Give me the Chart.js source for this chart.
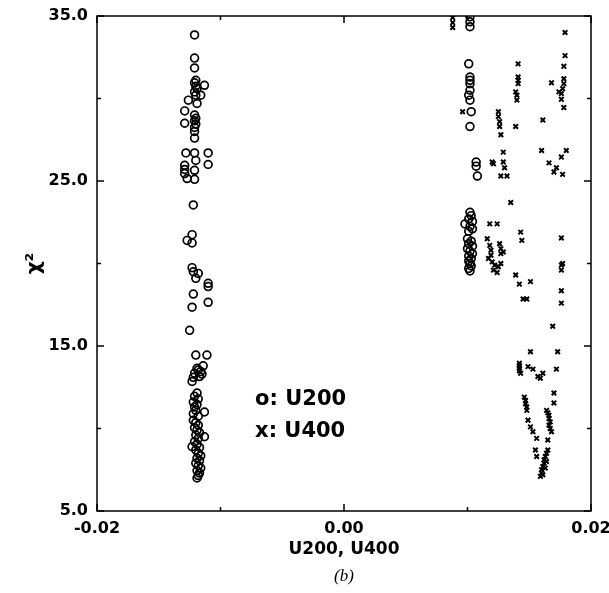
<!DOCTYPE html>
<html lang="en">
<head>
<meta charset="UTF-8">
<title>chi2 vs U200, U400</title>
<script src="https://cdn.jsdelivr.net/npm/chart.js"></script>
<style>
  html, body { margin: 0; padding: 0; background: #fff; }
  canvas { display: block; background: #fff; }
</style>
</head>
<body>
<canvas id="myChart" width="609" height="593"></canvas>
<script>
// values, [U, chi2]
const u200Left = [
  [-0.0121, 33.85], [-0.0121, 32.45], [-0.0121, 31.85],
  [-0.0120, 31.1], [-0.0121, 30.95], [-0.0120, 30.75], [-0.0119, 30.6], [-0.0121, 30.4], [-0.0120, 30.2],
  [-0.0113, 30.8], [-0.0116, 30.2], [-0.0126, 29.9], [-0.0119, 29.7], [-0.0129, 29.25],
  [-0.0121, 29.0], [-0.0120, 28.8], [-0.0121, 28.65], [-0.0120, 28.45], [-0.0121, 28.25],
  [-0.0129, 28.5], [-0.0121, 28.0], [-0.0121, 27.6],
  [-0.0128, 26.7], [-0.0121, 26.7], [-0.0110, 26.7], [-0.0120, 26.25], [-0.0110, 26.0],
  [-0.0129, 25.95], [-0.0129, 25.7], [-0.0129, 25.45], [-0.0127, 25.15], [-0.0121, 25.65], [-0.0121, 25.1],
  [-0.0122, 23.55], [-0.0123, 21.75], [-0.0127, 21.4], [-0.0123, 21.25],
  [-0.0123, 19.75], [-0.0122, 19.5], [-0.0120, 19.1], [-0.0118, 19.4], [-0.0110, 18.8], [-0.0110, 18.6],
  [-0.0122, 18.15], [-0.0110, 17.65], [-0.0123, 17.35], [-0.0125, 15.95],
  [-0.0120, 14.45], [-0.0111, 14.45],
  [-0.0114, 13.8], [-0.0116, 13.45], [-0.0117, 13.15], [-0.0119, 13.65], [-0.0121, 13.35],
  [-0.0122, 13.1], [-0.0123, 12.85], [-0.0118, 13.55], [-0.0115, 13.3],
  [-0.0119, 12.15], [-0.0121, 11.95], [-0.0118, 11.8], [-0.0122, 11.6], [-0.0119, 11.45], [-0.0121, 11.3],
  [-0.0113, 11.0], [-0.0120, 11.1], [-0.0122, 10.9], [-0.0118, 10.75], [-0.0122, 10.5], [-0.0120, 10.35],
  [-0.0118, 10.2], [-0.0121, 10.05], [-0.0119, 9.9], [-0.0117, 9.75], [-0.0113, 9.5], [-0.0120, 9.6],
  [-0.0118, 9.4], [-0.0121, 9.2], [-0.0123, 8.9], [-0.0119, 9.05], [-0.0117, 8.85], [-0.0120, 8.7],
  [-0.0118, 8.5], [-0.0116, 8.35], [-0.0119, 8.2], [-0.0117, 8.05], [-0.0120, 7.9], [-0.0118, 7.75],
  [-0.0116, 7.6], [-0.0119, 7.45], [-0.0117, 7.3], [-0.0118, 7.15], [-0.0119, 7.0]
];
const u200Right = [
  [0.0102, 34.95], [0.0102, 34.65], [0.0102, 34.35], [0.0101, 32.1],
  [0.0102, 31.3], [0.0102, 31.1], [0.0102, 30.9], [0.0102, 30.5], [0.0101, 30.2], [0.0102, 29.9],
  [0.0103, 29.2], [0.0102, 28.3], [0.0107, 26.15], [0.0107, 25.9], [0.0108, 25.3],
  [0.0102, 23.1], [0.0103, 22.9], [0.0101, 22.7], [0.0104, 22.55], [0.0098, 22.4], [0.0102, 22.25],
  [0.0104, 22.1], [0.0101, 21.95], [0.0100, 21.5], [0.0103, 21.35], [0.0101, 21.2], [0.0104, 21.05],
  [0.0100, 20.9], [0.0102, 20.75], [0.0104, 20.6], [0.0101, 20.45], [0.0103, 20.3], [0.0101, 20.15],
  [0.0102, 20.0], [0.0103, 19.85], [0.0101, 19.7], [0.0102, 19.55]
];
const u400Points = [
  [0.0088, 34.9], [0.0088, 34.6], [0.0088, 34.3],
  [0.0179, 34.0], [0.0179, 32.6], [0.0178, 31.95],
  [0.0141, 32.1], [0.0141, 31.3], [0.0141, 31.1], [0.0141, 30.9], [0.0139, 30.4], [0.0140, 30.2], [0.0140, 29.9],
  [0.0168, 30.95], [0.0178, 31.2], [0.0178, 30.9], [0.0177, 30.6], [0.0176, 30.3], [0.0174, 30.4],
  [0.0176, 29.95], [0.0178, 29.45],
  [0.0096, 29.2],
  [0.0125, 29.2], [0.0125, 28.9], [0.0126, 28.6], [0.0126, 28.3], [0.0139, 28.3], [0.0127, 27.8], [0.0161, 28.7],
  [0.0129, 26.75], [0.0120, 26.15], [0.0121, 26.05], [0.0129, 26.15], [0.0130, 25.8], [0.0127, 25.3], [0.0132, 25.3],
  [0.0160, 26.85], [0.0180, 26.85], [0.0176, 26.45], [0.0166, 26.1], [0.0172, 25.8], [0.0170, 25.55], [0.0177, 25.4],
  [0.0135, 23.7], [0.0118, 22.4], [0.0124, 22.4], [0.0143, 21.9], [0.0144, 21.4], [0.0176, 21.55],
  [0.0116, 21.5], [0.0118, 21.1], [0.0119, 20.8], [0.0126, 21.2], [0.0127, 20.9], [0.0127, 20.6], [0.0119, 20.5],
  [0.0117, 20.3], [0.0120, 20.1], [0.0122, 19.9], [0.0121, 19.6], [0.0124, 19.45], [0.0127, 20.0],
  [0.0129, 20.7], [0.0125, 19.8],
  [0.0139, 19.3], [0.0142, 18.75], [0.0151, 18.9], [0.0145, 17.85], [0.0148, 17.85],
  [0.0176, 19.9], [0.0176, 19.6], [0.0177, 20.0], [0.0176, 18.35], [0.0176, 17.6], [0.0169, 16.2],
  [0.0151, 14.65], [0.0173, 14.65], [0.0172, 13.6],
  [0.0142, 13.95], [0.0142, 13.65], [0.0143, 13.35], [0.0142, 13.8], [0.0142, 13.5],
  [0.0149, 13.75], [0.0153, 13.6], [0.0157, 13.15], [0.0159, 13.05], [0.0161, 13.35],
  [0.0170, 12.15], [0.0170, 11.55],
  [0.0146, 11.9], [0.0147, 11.7], [0.0147, 11.5], [0.0148, 11.3], [0.0148, 11.1], [0.0149, 10.5],
  [0.0151, 10.1], [0.0153, 9.8], [0.0156, 9.4], [0.0155, 8.7], [0.0156, 8.3],
  [0.0164, 11.1], [0.0165, 10.95], [0.0166, 10.8], [0.0166, 10.6], [0.0167, 10.4], [0.0166, 10.2],
  [0.0167, 10.0], [0.0168, 9.8], [0.0165, 9.3], [0.0165, 8.7], [0.0164, 8.5], [0.0163, 8.3],
  [0.0162, 8.1], [0.0162, 7.9], [0.0161, 7.7], [0.0160, 7.5], [0.0160, 7.3], [0.0159, 7.1],
  [0.0164, 8.0], [0.0163, 7.6], [0.0161, 7.2]
];
const xTickValues = [-0.02, 0.00, 0.02];
const yTickValues = [5, 15, 25, 35];
const xMinorTicks = [-0.01, 0.01];
const yMinorTicks = [10, 20, 30];
const legendLines = ['o: U200', 'x: U400'];
const panelLabel = '(b)';

function toPoints(pairs) {
  return pairs.map(p => ({ x: p[0], y: p[1] }));
}

// frame, inward ticks, in-plot key text and the panel label
const frameAndText = {
  id: 'frameAndText',
  afterDraw(chart) {
    const { ctx, chartArea: a, scales: { x, y } } = chart;
    ctx.save();
    ctx.strokeStyle = '#000';
    ctx.lineWidth = 1.5;
    ctx.strokeRect(a.left, a.top, a.right - a.left, a.bottom - a.top);

    ctx.beginPath();
    xTickValues.map(v => [v, 7]).concat(xMinorTicks.map(v => [v, 4])).forEach(([v, len]) => {
      const px = x.getPixelForValue(v);
      ctx.moveTo(px, a.bottom); ctx.lineTo(px, a.bottom - len);
      ctx.moveTo(px, a.top); ctx.lineTo(px, a.top + len);
    });
    yTickValues.map(v => [v, 7]).concat(yMinorTicks.map(v => [v, 4])).forEach(([v, len]) => {
      const py = y.getPixelForValue(v);
      ctx.moveTo(a.left, py); ctx.lineTo(a.left + len, py);
      ctx.moveTo(a.right, py); ctx.lineTo(a.right - len, py);
    });
    ctx.stroke();

    ctx.fillStyle = '#000';
    ctx.font = 'bold 21px "DejaVu Sans"';
    ctx.textAlign = 'left';
    ctx.textBaseline = 'middle';
    ctx.fillText(legendLines[0], x.getPixelForValue(-0.0072), y.getPixelForValue(11.75));
    ctx.fillText(legendLines[1], x.getPixelForValue(-0.0072), y.getPixelForValue(9.8));

    ctx.font = 'italic 17px "Liberation Serif"';
    ctx.textAlign = 'center';
    ctx.fillText(panelLabel, (a.left + a.right) / 2, 577);
    ctx.restore();
  }
};

const tickFont = { family: 'DejaVu Sans', size: 16, weight: 'bold' };

new Chart(document.getElementById('myChart'), {
  type: 'scatter',
  data: {
    datasets: [
      {
        label: 'U200',
        data: toPoints(u200Left),
        pointStyle: 'circle',
        pointRadius: 3.9,
        borderWidth: 1.7,
        borderColor: '#000',
        backgroundColor: 'rgba(0,0,0,0)'
      },
      {
        label: 'U200 ',
        data: toPoints(u200Right),
        pointStyle: 'circle',
        pointRadius: 3.9,
        borderWidth: 1.7,
        borderColor: '#000',
        backgroundColor: 'rgba(0,0,0,0)'
      },
      {
        label: 'U400',
        data: toPoints(u400Points),
        pointStyle: 'crossRot',
        pointRadius: 3.2,
        borderWidth: 2,
        borderColor: '#000',
        backgroundColor: '#000'
      }
    ]
  },
  options: {
    responsive: false,
    animation: false,
    devicePixelRatio: 1,
    layout: { padding: { left: 0, top: 16, right: 18, bottom: 0 } },
    plugins: { legend: { display: false }, tooltip: { enabled: false } },
    scales: {
      x: {
        type: 'linear',
        min: -0.02,
        max: 0.02,
        afterBuildTicks: s => { s.ticks = xTickValues.map(v => ({ value: v })); },
        afterFit: s => { s.height = 82; s.paddingLeft = 0; s.paddingRight = 0; },
        grid: { display: false, drawTicks: false },
        border: { display: false },
        ticks: {
          color: '#000',
          font: tickFont,
          padding: 8,
          maxRotation: 0,
          callback: v => v.toFixed(2)
        },
        title: {
          display: true,
          text: 'U200, U400',
          color: '#000',
          font: { family: 'DejaVu Sans', size: 17, weight: 'bold' },
          padding: { top: 0, bottom: 33 }
        }
      },
      y: {
        type: 'linear',
        min: 5,
        max: 35,
        afterBuildTicks: s => { s.ticks = yTickValues.map(v => ({ value: v })); },
        afterFit: s => { s.width = 97; s.paddingTop = 0; s.paddingBottom = 0; },
        grid: { display: false, drawTicks: false },
        border: { display: false },
        ticks: {
          color: '#000',
          font: tickFont,
          padding: 9,
          callback: v => v.toFixed(1)
        },
        title: {
          display: true,
          text: 'χ²',
          color: '#000',
          font: { family: 'DejaVu Sans', size: 20, weight: 'bold' },
          padding: { top: 23, bottom: 0 }
        }
      }
    }
  },
  plugins: [frameAndText]
});
</script>
</body>
</html>
